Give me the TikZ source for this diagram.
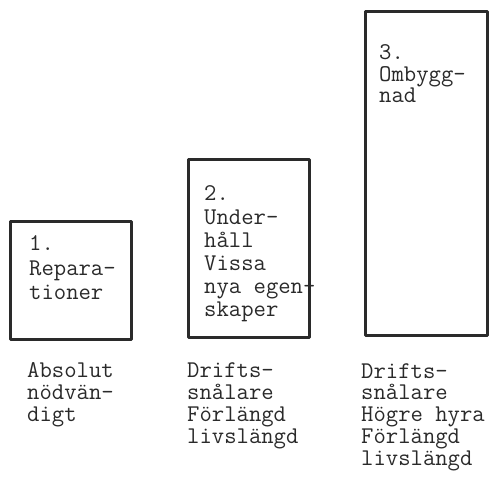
\documentclass[tikz,border=0pt]{standalone}
\usepackage{fontspec}
\definecolor{inkgray}{HTML}{2A2A2A}

\begin{document}
\begin{tikzpicture}[
  x=1pt, y=-1pt,
  bar/.style={draw=inkgray, line width=3pt, line join=round},
  label/.style={inkgray, font=\fontsize{24}{21.7}\selectfont\ttfamily,
    align=left, inner sep=0pt, anchor=base west},
  wide/.style={font=\fontsize{24}{#1}\selectfont\ttfamily},
]
\useasboundingbox (0,0) rectangle (493,478);

% ===== Bar 1: reparationer =====
\draw[bar] (10,222) rectangle (131,340);
\node[label, wide=24.5] (rep) at (29,300) {1.\\Repara-\\tioner};
\node[label] (repnote) at (27,421) {Absolut\\nödvän-\\digt};

% ===== Bar 2: underhall =====
\draw[bar] (188,160) rectangle (309,338);
\node[label, wide=23.2] (und) at (204,317) {2.\\Under-\\håll\\Vissa\\nya egen-\\skaper};
\node[label] (undnote) at (187,443) {Drifts-\\snålare\\Förlängd\\livslängd};

% ===== Bar 3: ombyggnad =====
\draw[bar] (365,12) rectangle (487,336);
\node[label] (omb) at (379,103) {3.\\Ombygg-\\nad};
\node[label] (ombnote) at (361,465) {Drifts-\\snålare\\Högre hyra\\Förlängd\\livslängd};

\end{tikzpicture}
\end{document}
